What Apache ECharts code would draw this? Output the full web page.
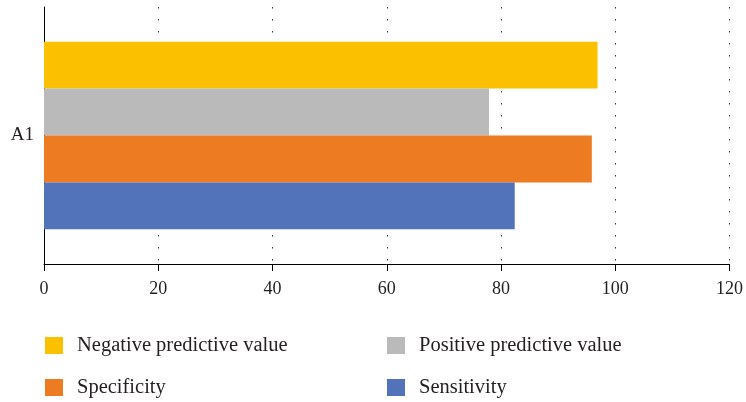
<!DOCTYPE html>
<html>
<head>
<meta charset="utf-8">
<script src="https://cdn.jsdelivr.net/npm/echarts@6/dist/echarts.min.js"></script>
<style>html,body{margin:0;padding:0;background:#fff;}#c{width:746px;height:402px;}</style>
</head>
<body>
<div id="c"></div>
<script>
const categories = ['A1'];
// listed top to bottom as drawn in the reference
const seriesNames = ['Negative predictive value', 'Positive predictive value', 'Specificity', 'Sensitivity'];
const npv = [96.9];
const ppv = [77.9];
const specificity = [95.9];
const sensitivity = [82.4];
const xTicks = [0, 20, 40, 60, 80, 100, 120];

const colors = ['#FBC000', '#BABABA', '#ED7B22', '#5273BA'];
const font = '"Liberation Serif", "DejaVu Serif", serif';
const values = [npv, ppv, specificity, sensitivity];

const chart = echarts.init(document.getElementById('c'), null, {renderer: 'canvas'});
const legendText = {fontFamily: font, fontSize: 20.5, color: '#231F20', padding: [0, 0, 0, 9]};
const legendPos = [[45, 335], [387, 335], [45, 377], [387, 377]];
chart.setOption({
  animation: false,
  grid: {left: 44, right: 16, top: 7, bottom: 138, containLabel: false},
  xAxis: {
    type: 'value',
    min: xTicks[0], max: xTicks[xTicks.length - 1], interval: 20,
    axisLine: {show: true, lineStyle: {color: '#000', width: 1}},
    axisTick: {show: true, length: 7, lineStyle: {color: '#000'}},
    axisLabel: {fontFamily: font, fontSize: 18, color: '#231F20', margin: 16},
    splitLine: {show: true, lineStyle: {color: '#333', width: 1, type: [1.5, 10.5]}}
  },
  yAxis: {
    type: 'category',
    data: categories,
    axisLine: {show: true, lineStyle: {color: '#000', width: 1}},
    axisTick: {show: false},
    axisLabel: {fontFamily: font, fontSize: 19, color: '#231F20', margin: 10}
  },
  legend: seriesNames.map((n, i) => ({
    orient: 'horizontal', left: legendPos[i][0], top: legendPos[i][1],
    padding: 0,
    itemWidth: 18, itemHeight: 17,
    icon: 'rect',
    data: [n],
    textStyle: legendText
  })),
  series: seriesNames.map((n, i) => ({
    name: n,
    type: 'bar',
    data: values[i],
    barGap: '0%',
    barCategoryGap: '27%',
    itemStyle: {color: colors[i]}
  }))
});
</script>
</body>
</html>
